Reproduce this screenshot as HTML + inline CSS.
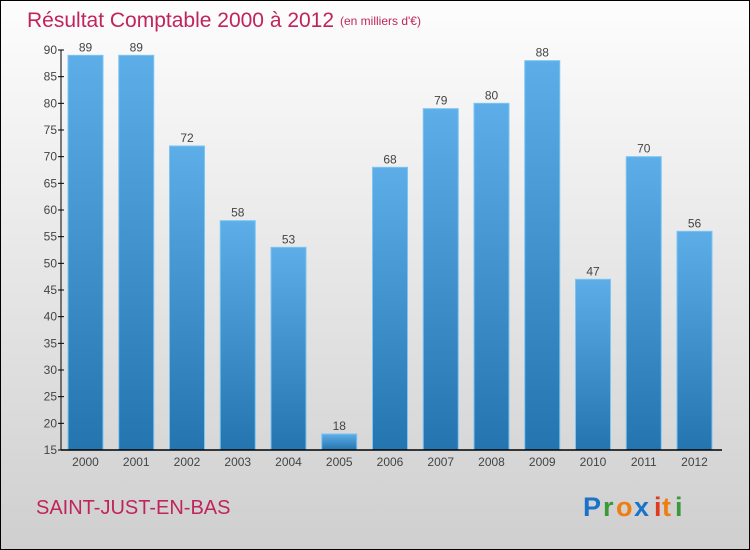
<!DOCTYPE html>
<html><head><meta charset="utf-8"><style>
html,body{margin:0;padding:0;}
body{width:750px;height:550px;overflow:hidden;font-family:"Liberation Sans",sans-serif;}
#wrap{position:absolute;left:0;top:0;width:748px;height:548px;border:1px solid #000;background:linear-gradient(#fdfdfd,#cfcfcf);}
</style></head><body>
<div id="wrap">
<svg id="chart" width="750" height="550" style="position:absolute;left:-1px;top:-1px">
<defs>
<linearGradient id="bg" x1="0" y1="0" x2="0" y2="1"><stop offset="0" stop-color="#5daee8"/><stop offset="1" stop-color="#2474b0"/></linearGradient>
</defs>
<text x="27" y="27" font-size="21" fill="#c0245c">Résultat Comptable 2000 à 2012</text>
<text x="340" y="25" font-size="12" fill="#c0245c">(en milliers d'€)</text>
<text x="36" y="514" font-size="20" fill="#c0245c">SAINT-JUST-EN-BAS</text>
<g font-size="27" font-weight="bold" font-family="Liberation Sans, sans-serif">
<text x="583" y="516" fill="#1a73c9">P</text><text x="603" y="516" fill="#3a9a3a">r</text><text x="616" y="516" fill="#f07d10">o</text><text x="634" y="516" fill="#1a73c9">x</text><text x="654" y="516" fill="#e03a20">i</text><text x="662" y="516" fill="#f07d10">t</text><text x="675" y="516" fill="#3a9a3a">i</text>
</g>
<g id="bars"></g>
<g id="axes"></g>
</svg>
</div>
<script>
const years=["2000","2001","2002","2003","2004","2005","2006","2007","2008","2009","2010","2011","2012"];
const values=[89,89,72,58,53,18,68,79,80,88,47,70,56];
const yTicks=[15,20,25,30,35,40,45,50,55,60,65,70,75,80,85,90];
const NS="http://www.w3.org/2000/svg";
const yMin=15,yMax=90,y0=450,y1=50;
function yS(v){return y0-(v-yMin)*(y0-y1)/(yMax-yMin);}
function xS(i){return 85.5+i*50.75;}
function mk(t,a,p){const e=document.createElementNS(NS,t);for(const k in a)e.setAttribute(k,a[k]);p.appendChild(e);return e;}
const bars=document.getElementById('bars'),axes=document.getElementById('axes');
values.forEach((v,i)=>{
 const r=mk('rect',{x:xS(i)-17.5,y:yS(v),width:35,height:y0-yS(v),fill:'url(#bg)',stroke:'#7cc4f2','stroke-width':1},bars);
 
 
 const t=mk('text',{x:xS(i),y:yS(v)-4,'text-anchor':'middle','font-size':12,fill:'#444'},bars);
 t.textContent=v;
 
 
 const xl=mk('text',{x:xS(i),y:466,'text-anchor':'middle','font-size':12,fill:'#444'},axes);
 xl.textContent=years[i];
 
 
});
const ya=mk('line',{x1:61,y1:y1,x2:61,y2:y0,stroke:'#000','stroke-width':1},axes);


const xa=mk('line',{x1:61,y1:y0,x2:722,y2:y0,stroke:'#000','stroke-width':1.5},axes);


yTicks.forEach(v=>{
 mk('line',{x1:58,y1:yS(v),x2:64,y2:yS(v),stroke:'#000'},axes);
 const t=mk('text',{x:57,y:yS(v)+4,'text-anchor':'end','font-size':12,fill:'#444'},axes);
 t.textContent=v;
 
 
});
</script>
</body></html>
